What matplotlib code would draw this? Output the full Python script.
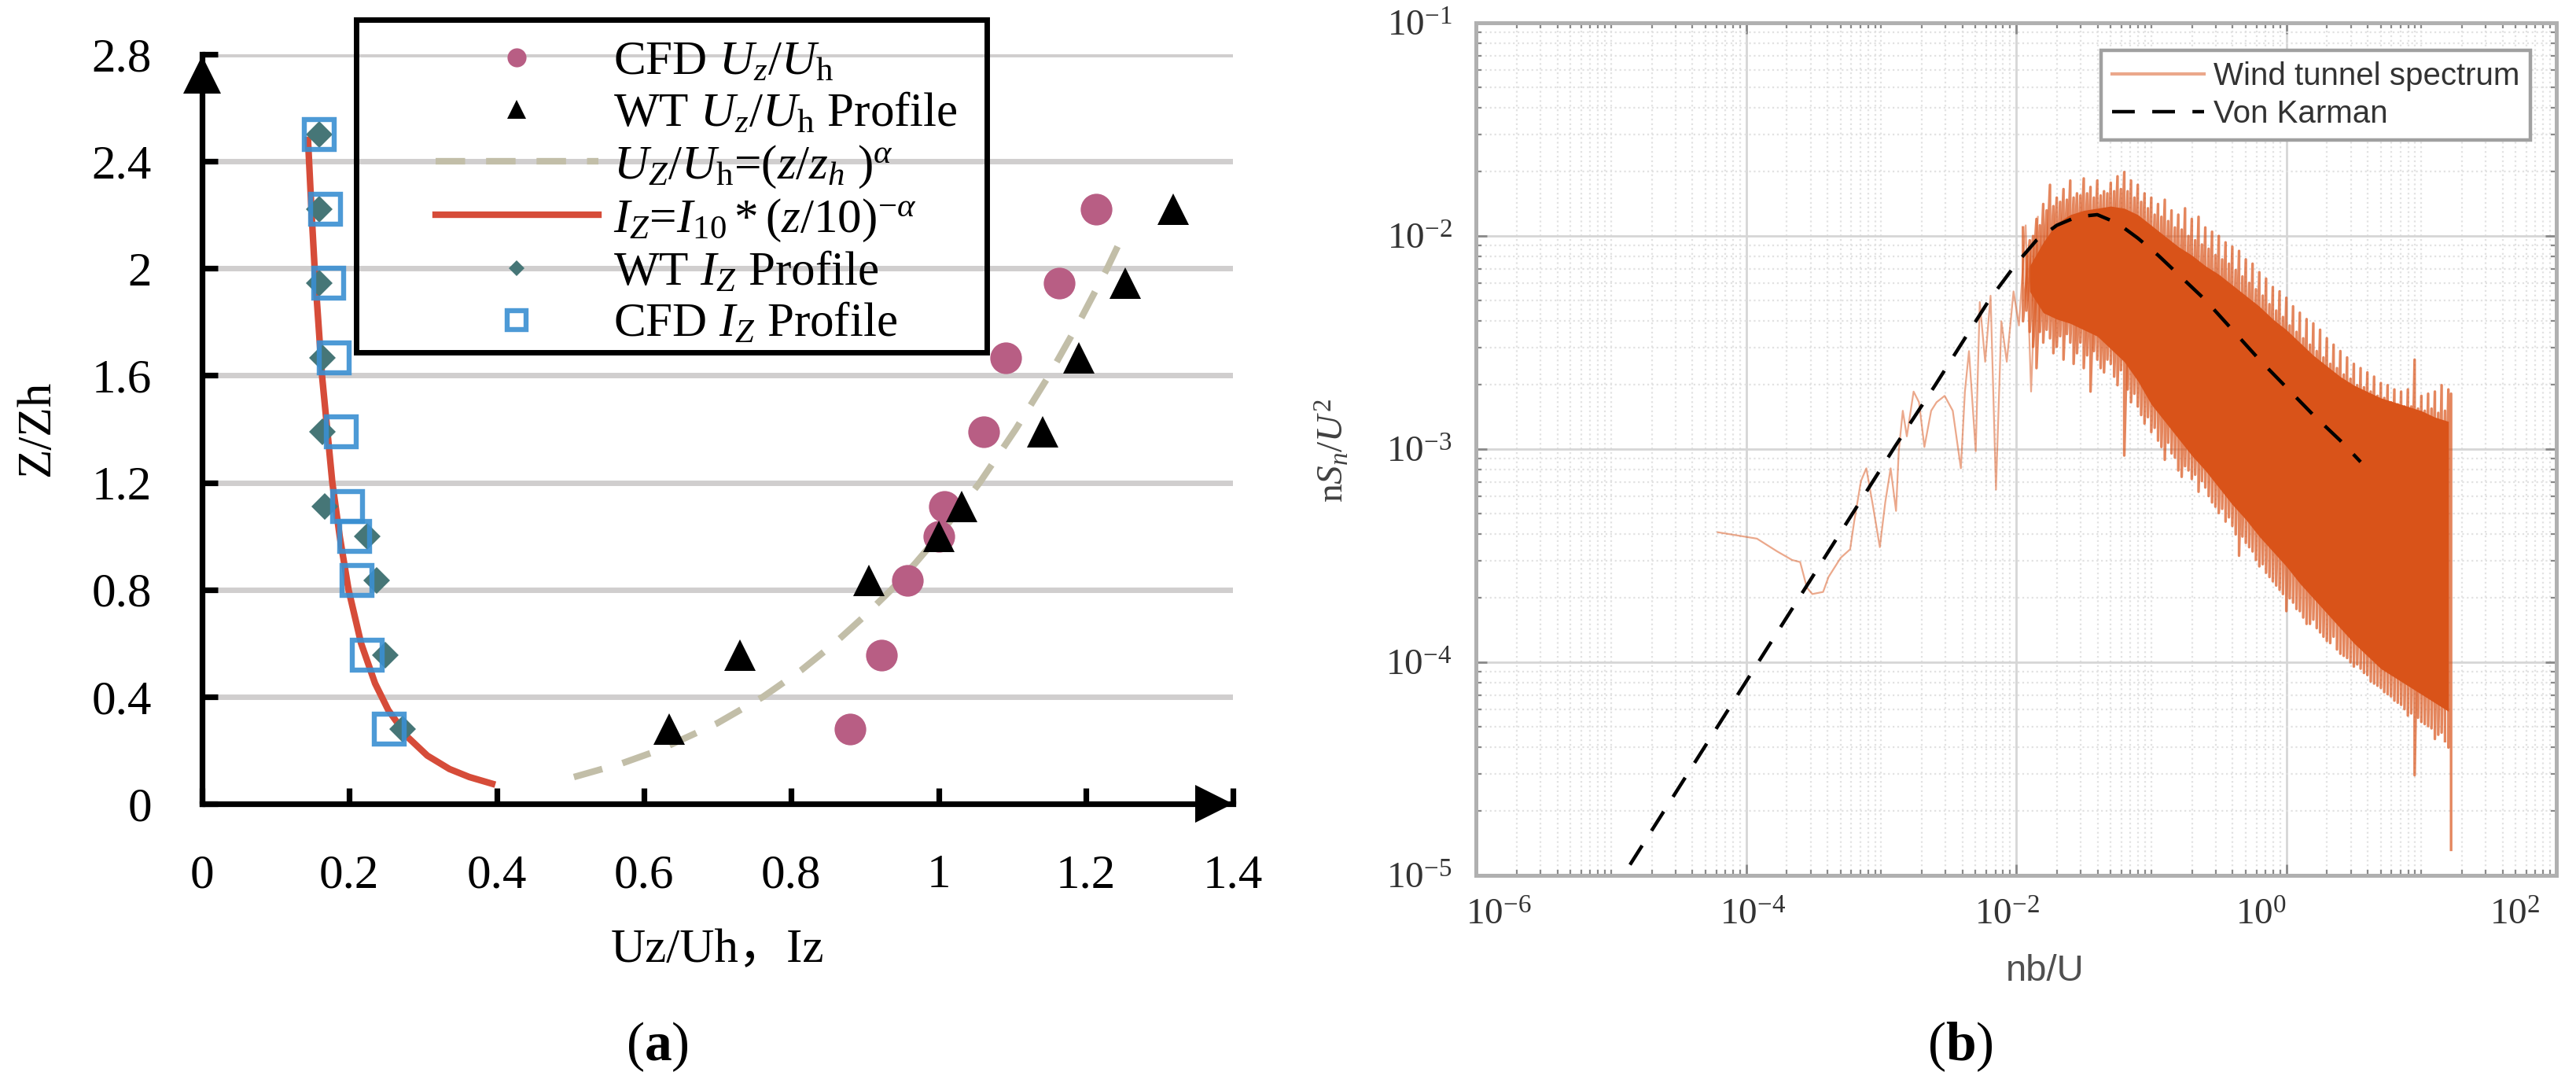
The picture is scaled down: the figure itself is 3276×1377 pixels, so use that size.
import numpy as np
import matplotlib
matplotlib.use("Agg")
import matplotlib.pyplot as plt
from matplotlib.lines import Line2D
from matplotlib.patches import Rectangle
from matplotlib.transforms import blended_transform_factory, ScaledTranslation
from matplotlib.ticker import (FixedLocator, FixedFormatter, LogLocator,
                               NullFormatter, LogFormatterSciNotation)

plt.rcParams['font.family'] = ['Liberation Serif', 'Noto Sans CJK SC']
plt.rcParams['mathtext.fontset'] = 'custom'
plt.rcParams['mathtext.rm'] = 'Liberation Serif'
plt.rcParams['mathtext.it'] = 'Liberation Serif:italic'
plt.rcParams['mathtext.bf'] = 'Liberation Serif:bold'

# ==========================================
# (a) wind / turbulence profiles, z/zh
# ==========================================
heights_u = [0.278, 0.556, 0.833, 1.0, 1.111, 1.389, 1.667, 1.944, 2.222]
cfd_u = [0.880, 0.923, 0.958, 1.0, 1.008, 1.061, 1.091, 1.164, 1.214]
wt_u = [0.634, 0.730, 0.906, 1.0, 1.031, 1.141, 1.190, 1.253, 1.319]

heights_i = [0.278, 0.556, 0.833, 1.0, 1.111, 1.389, 1.667, 1.944, 2.222, 2.5]
cfd_iz = [0.254, 0.224, 0.211, 0.207, 0.198, 0.189, 0.180, 0.172, 0.168, 0.159]
wt_iz = [0.272, 0.249, 0.237, 0.224, 0.167, 0.163, 0.163, 0.159, 0.159, 0.159]

# power law curve
pow_z = [0.1, 0.15, 0.2, 0.3, 0.4, 0.5, 0.6, 0.7, 0.8, 0.9, 1.0, 1.2, 1.4, 1.6, 1.8, 2.0, 2.15]
pow_u = [0.505, 0.569, 0.620, 0.699, 0.762, 0.814, 0.859, 0.899, 0.936, 0.969, 1.0,
         1.056, 1.105, 1.150, 1.191, 1.229, 1.255]

# turbulence intensity curve (red line)
iz_z = [2.48, 2.2, 2.0, 1.8, 1.6, 1.4, 1.2, 1.0, 0.8, 0.6, 0.45, 0.35, 0.25, 0.18, 0.13, 0.1, 0.075]
iz_x = [0.144, 0.149, 0.153, 0.158, 0.163, 0.170, 0.177, 0.187, 0.199, 0.216, 0.235,
        0.253, 0.279, 0.306, 0.336, 0.363, 0.394]

a_xticks = [0, 0.2, 0.4, 0.6, 0.8, 1.0, 1.2, 1.4]
a_xlabels = ["0", "0.2", "0.4", "0.6", "0.8", "1", "1.2", "1.4"]
a_yticks = [0, 0.4, 0.8, 1.2, 1.6, 2.0, 2.4, 2.8]
a_ylabels = ["0", "0.4", "0.8", "1.2", "1.6", "2", "2.4", "2.8"]

# ==========================================
# (b) spectrum, all values are log10
# ==========================================
# sparse low-frequency part of the wind tunnel spectrum
lf_xlog = [-4.21, -3.92, -3.77, -3.66, -3.60, -3.55, -3.51, -3.43, -3.39, -3.30, -3.23,
           -3.20, -3.15, -3.11, -3.06, -3.01, -2.97, -2.93, -2.89, -2.87, -2.84, -2.81,
           -2.76, -2.72, -2.68, -2.63, -2.59, -2.53, -2.47, -2.41, -2.38, -2.35, -2.30,
           -2.27, -2.23, -2.19, -2.15, -2.11, -2.07, -2.02, -1.98, -1.93, -1.89, -1.84]
lf_ylog = [-3.39, -3.42, -3.48, -3.52, -3.53, -3.65, -3.68, -3.67, -3.60, -3.51, -3.47,
           -3.34, -3.15, -3.09, -3.27, -3.46, -3.25, -3.09, -3.29, -3.01, -2.82, -2.94,
           -2.73, -2.78, -2.99, -2.82, -2.78, -2.75, -2.82, -3.09, -2.73, -2.54, -3.01,
           -2.31, -2.59, -2.28, -3.19, -2.40, -2.59, -2.26, -2.42, -1.95, -2.73, -1.91]

# dense part: solid core of the band
band_xlog = [-1.9, -1.8, -1.7, -1.6, -1.5, -1.4, -1.3, -1.2, -1.1, -1.0, -0.9, -0.8,
             -0.7, -0.6, -0.5, -0.4, -0.3, -0.2, -0.1, 0.0, 0.1, 0.2, 0.3, 0.4, 0.5,
             0.6, 0.7, 0.8, 0.9, 1.0, 1.1, 1.2]
core_hi = [-2.14, -2.03, -1.94, -1.90, -1.88, -1.87, -1.86, -1.87, -1.90, -1.95, -2.00,
           -2.05, -2.09, -2.14, -2.18, -2.23, -2.28, -2.33, -2.39, -2.44, -2.50, -2.56,
           -2.61, -2.66, -2.70, -2.73, -2.76, -2.78, -2.80, -2.82, -2.85, -2.87]
core_lo = [-2.26, -2.36, -2.39, -2.41, -2.44, -2.47, -2.53, -2.59, -2.68, -2.79, -2.87,
           -2.95, -3.03, -3.10, -3.18, -3.26, -3.33, -3.41, -3.48, -3.55, -3.63, -3.70,
           -3.77, -3.84, -3.91, -3.97, -4.03, -4.07, -4.11, -4.15, -4.19, -4.23]

# dense part: spike tips above and below the core (two interleaved sets)
spike_xlog = [-1.95, -1.90, -1.85, -1.80, -1.75, -1.70, -1.65, -1.60, -1.55, -1.50,
              -1.45, -1.40, -1.35, -1.30, -1.25, -1.20, -1.15, -1.10, -1.05, -1.00,
              -0.95, -0.90, -0.85, -0.80, -0.75, -0.70, -0.65, -0.60, -0.55, -0.50,
              -0.45, -0.40, -0.35, -0.30, -0.25, -0.20, -0.15, -0.10, -0.05, 0.00,
              0.05, 0.10, 0.15, 0.20, 0.25, 0.30, 0.35, 0.40, 0.45, 0.50,
              0.55, 0.60, 0.65, 0.70, 0.75, 0.80, 0.85, 0.90, 0.95, 1.00,
              1.05, 1.10, 1.15, 1.20, 1.22]
spike_hi = [-1.96, -2.02, -1.92, -1.85, -1.76, -1.82, -1.78, -1.74, -1.80, -1.73,
            -1.77, -1.74, -1.79, -1.75, -1.72, -1.70, -1.74, -1.76, -1.80, -1.82,
            -1.85, -1.83, -1.88, -1.90, -1.87, -1.92, -1.91, -1.96, -1.98, -2.00,
            -2.03, -2.05, -2.07, -2.11, -2.13, -2.17, -2.20, -2.24, -2.26, -2.29,
            -2.33, -2.36, -2.39, -2.41, -2.44, -2.48, -2.51, -2.54, -2.57, -2.60,
            -2.62, -2.64, -2.66, -2.69, -2.70, -2.72, -2.73, -2.72, -2.58, -2.75,
            -2.74, -2.73, -2.70, -2.72, -2.74]
spike_lo = [-2.40, -2.45, -2.62, -2.50, -2.48, -2.52, -2.58, -2.50, -2.55, -2.62,
            -2.73, -2.58, -2.64, -2.60, -2.70, -3.03, -2.78, -2.80, -2.88, -2.92,
            -2.96, -3.05, -3.02, -3.10, -3.08, -3.14, -3.20, -3.18, -3.25, -3.30,
            -3.34, -3.36, -3.50, -3.44, -3.48, -3.55, -3.58, -3.62, -3.66, -3.76,
            -3.72, -3.76, -3.82, -3.80, -3.86, -3.90, -3.88, -3.96, -3.98, -4.02,
            -4.03, -4.06, -4.10, -4.12, -4.15, -4.18, -4.20, -4.25, -4.53, -4.28,
            -4.30, -4.36, -4.33, -4.40, -4.88]
spike2_xlog = [-1.925, -1.875, -1.825, -1.775, -1.725, -1.675, -1.625, -1.575, -1.525,
               -1.475, -1.425, -1.375, -1.325, -1.275, -1.225, -1.175, -1.125, -1.075,
               -1.025, -0.975, -0.925, -0.875, -0.825, -0.775, -0.725, -0.675, -0.625,
               -0.575, -0.525, -0.475, -0.425, -0.375, -0.325, -0.275, -0.225, -0.175,
               -0.125, -0.075, -0.025, 0.025, 0.075, 0.125, 0.175, 0.225, 0.275, 0.325,
               0.375, 0.425, 0.475, 0.525, 0.575, 0.625, 0.675, 0.725, 0.775, 0.825,
               0.875, 0.925, 0.975, 1.025, 1.075, 1.125, 1.175]
spike2_hi = [-2.08, -2.00, -1.95, -1.88, -1.86, -1.84, -1.83, -1.82, -1.81, -1.80,
             -1.82, -1.81, -1.80, -1.79, -1.78, -1.79, -1.82, -1.84, -1.87, -1.90,
             -1.91, -1.93, -1.96, -1.97, -2.00, -2.02, -2.04, -2.06, -2.09, -2.11,
             -2.13, -2.16, -2.19, -2.22, -2.25, -2.28, -2.32, -2.35, -2.38, -2.42,
             -2.45, -2.48, -2.51, -2.54, -2.57, -2.60, -2.62, -2.65, -2.67, -2.70,
             -2.71, -2.73, -2.75, -2.76, -2.78, -2.79, -2.80, -2.80, -2.81, -2.82,
             -2.81, -2.83, -2.82]
spike2_lo = [-2.35, -2.52, -2.45, -2.44, -2.55, -2.47, -2.46, -2.60, -2.50, -2.56,
             -2.54, -2.62, -2.58, -2.66, -2.63, -2.72, -2.74, -2.84, -2.85, -2.90,
             -2.99, -2.97, -3.04, -3.13, -3.10, -3.12, -3.15, -3.22, -3.27, -3.28,
             -3.32, -3.40, -3.41, -3.46, -3.52, -3.54, -3.60, -3.64, -3.68, -3.70,
             -3.75, -3.79, -3.82, -3.84, -3.88, -3.91, -3.94, -3.97, -4.00, -4.01,
             -4.05, -4.09, -4.11, -4.14, -4.16, -4.19, -4.22, -4.24, -4.26, -4.29,
             -4.31, -4.34, -4.37]

# von Karman reference curve
vk_xlog = [-4.86, -4.5, -4.2, -3.8, -3.5, -3.2, -2.9, -2.6, -2.4, -2.2, -2.0, -1.85,
           -1.7, -1.55, -1.4, -1.25, -1.1, -0.95, -0.8, -0.6, -0.4, -0.2, 0.0, 0.2,
           0.4, 0.55]
vk_ylog = [-4.95, -4.59, -4.29, -3.89, -3.59, -3.29, -2.99, -2.70, -2.50, -2.30, -2.13,
           -2.02, -1.95, -1.91, -1.90, -1.94, -2.01, -2.09, -2.18, -2.30, -2.44, -2.58,
           -2.71, -2.84, -2.96, -3.06]

b_xticks = [1e-6, 1e-4, 1e-2, 1e0, 1e2]
b_xticklabels = [r"$10^{-6}$", r"$10^{-4}$", r"$10^{-2}$", r"$10^{0}$", r"$10^{2}$"]
b_yticks = [1e-5, 1e-4, 1e-3, 1e-2, 1e-1]

# colours
PINK = '#B85E84'
TAN = '#C2BEA8'
RED = '#D64C39'
TEAL = '#467677'
BLUE = '#3A8FD2'
ORANGE = '#D95319'

fig = plt.figure(figsize=(16.38, 6.885), dpi=200)

# ------------------------------------------
# panel (a)
# ------------------------------------------
ax_a = fig.add_axes([0.0784, 0.2578, 0.4003, 0.6921])
ax_a.set_xlim(0, 1.4)
ax_a.set_ylim(0, 2.8)
ax_a.set_axisbelow(True)
ax_a.yaxis.grid(True, color='#D0CECE', lw=2.5)

h_pow, = ax_a.plot(pow_u, pow_z, color=TAN, lw=3.0, dashes=(4.5, 3.2),
                   label=r"$U_Z/U_\mathrm{h}$=$(z/z_h\ )^{\alpha}$", zorder=2)
h_iz, = ax_a.plot(iz_x, iz_z, color=RED, lw=3.0,
                  label=r"$I_Z$=$I_{10}*(z/10)^{-\alpha}$", zorder=2)
h_cfd_u, = ax_a.plot(cfd_u, heights_u, 'o', color=PINK, ms=14.5, mew=0,
                     label=r"CFD $U_z/U_\mathrm{h}$", zorder=3)
h_wt_u, = ax_a.plot(wt_u, heights_u, '^', color='black', ms=14.5, mew=0,
                    label=r"WT $U_z/U_\mathrm{h}$ Profile", zorder=3)
h_wt_iz, = ax_a.plot(wt_iz, heights_i, 'D', color=TEAL, ms=8.5, mew=0,
                     label=r"WT $I_Z$ Profile", zorder=3)
h_cfd_iz, = ax_a.plot(cfd_iz, heights_i, 's', mfc='none', mec=BLUE, ms=14, mew=2.3,
                      alpha=0.9, label=r"CFD $I_Z$ Profile", zorder=4)

for side in ['top', 'right']:
    ax_a.spines[side].set_visible(False)
for side in ['left', 'bottom']:
    ax_a.spines[side].set_linewidth(2.6)
    ax_a.spines[side].set_zorder(5)

ax_a.xaxis.set_major_locator(FixedLocator(a_xticks))
ax_a.xaxis.set_major_formatter(FixedFormatter(a_xlabels))
ax_a.yaxis.set_major_locator(FixedLocator(a_yticks))
ax_a.yaxis.set_major_formatter(FixedFormatter(a_ylabels))
ax_a.tick_params(direction='in', length=7.2, width=2.6, labelsize=22)
ax_a.tick_params(axis='x', pad=23)
ax_a.tick_params(axis='y', pad=23)

# axis arrow heads
ax_a.plot([0], [2.725], marker='^', ms=17, color='black', mew=0, clip_on=False, zorder=6)
ax_a.plot([1.374], [0], marker='>', ms=17, color='black', mew=0, clip_on=False, zorder=6)

# legend with its own square frame
ax_a.add_patch(Rectangle((0.2096, 1.687), 0.856, 1.243, fill=False, ec='black',
                         lw=2.5, clip_on=False, zorder=7))
leg_a = ax_a.legend(handles=[h_cfd_u, h_wt_u, h_pow, h_iz, h_wt_iz, h_cfd_iz],
                    loc='upper left', bbox_to_anchor=(0.203, 1.05), frameon=False,
                    borderpad=0, handlelength=3.4, handletextpad=0.3,
                    labelspacing=0.15, markerscale=0.6, prop={'size': 22})

fig.text(0.2784, 0.1227, "Uz/Uh，Iz", fontsize=22, ha='center', va='center')
fig.text(0.0144, 0.6042, "Z/Zh", fontsize=22, rotation=90, ha='center', va='center')
fig.text(0.2552, 0.0334, r"($\mathbf{a}$)", fontsize=25, ha='center', va='center')

# ------------------------------------------
# panel (b)
# ------------------------------------------
ax_b = fig.add_axes([0.5730, 0.1917, 0.4194, 0.7872])
ax_b.set_xscale('log')
ax_b.set_yscale('log')

zig_x = np.repeat(np.power(10.0, spike_xlog), 2)
zig_y = np.power(10.0, np.column_stack((spike_hi, spike_lo)).ravel())
zig2_x = np.repeat(np.power(10.0, spike2_xlog), 2)
zig2_y = np.power(10.0, np.column_stack((spike2_hi, spike2_lo)).ravel())

ax_b.fill_between(np.power(10.0, band_xlog), np.power(10.0, core_lo),
                  np.power(10.0, core_hi), color=ORANGE, lw=0, zorder=2)
ax_b.plot(np.power(10.0, lf_xlog), np.power(10.0, lf_ylog), color=ORANGE, alpha=0.5,
          lw=0.8, zorder=3)
ax_b.plot(zig_x, zig_y, color=ORANGE, alpha=0.7, lw=1.2, zorder=3)
ax_b.plot(zig2_x, zig2_y, color=ORANGE, alpha=0.7, lw=1.2, zorder=3)
ax_b.plot(np.power(10.0, vk_xlog), np.power(10.0, vk_ylog), color='black', lw=1.6,
          dashes=(6.5, 5), zorder=4)

ax_b.set_xlim(1e-6, 1e2)
ax_b.set_ylim(1e-5, 1e-1)
ax_b.xaxis.set_major_locator(FixedLocator(b_xticks))
ax_b.xaxis.set_major_formatter(NullFormatter())
ax_b.xaxis.set_minor_locator(LogLocator(base=10, subs=np.arange(1, 10), numticks=100))
ax_b.xaxis.set_minor_formatter(NullFormatter())
ax_b.yaxis.set_major_locator(FixedLocator(b_yticks))
ax_b.yaxis.set_major_formatter(LogFormatterSciNotation())
ax_b.yaxis.set_minor_locator(LogLocator(base=10, subs=np.arange(2, 10), numticks=100))
ax_b.yaxis.set_minor_formatter(NullFormatter())

ax_b.grid(True, which='major', color='#D6D6D6', lw=1.0)
ax_b.grid(True, which='minor', color='#E2E2E2', lw=0.8, ls=':')
ax_b.set_axisbelow(True)
for side in ax_b.spines.values():
    side.set_color('#B0B0B0')
    side.set_linewidth(1.8)
ax_b.tick_params(which='both', direction='in', top=True, right=True,
                 colors='#8A8A8A', labelcolor='#333333', labelsize=17)
ax_b.tick_params(which='major', length=5, width=1.0)
ax_b.tick_params(which='minor', length=2.5, width=0.8)
ax_b.tick_params(axis='y', pad=11)

# x tick labels sit slightly off their ticks in the original figure
xlab_shift_px = [29, 8, -12, -32, -53]
xlab_trans = blended_transform_factory(ax_b.transData, ax_b.transAxes)
for val, lab, dx in zip(b_xticks, b_xticklabels, xlab_shift_px):
    ax_b.text(val, -0.028, lab, fontsize=17, color='#333333', ha='center', va='top',
              clip_on=False,
              transform=xlab_trans + ScaledTranslation(dx / 200, 0, fig.dpi_scale_trans))

spec_handle = Line2D([], [], color=ORANGE, alpha=0.5, lw=1.5)
vk_handle = Line2D([], [], color='black', lw=1.6, dashes=(6.5, 5))
leg_b = ax_b.legend([spec_handle, vk_handle], ["Wind tunnel spectrum", "Von Karman"],
                    loc='upper right', bbox_to_anchor=(0.976, 0.968), borderaxespad=0,
                    prop={'family': 'Liberation Sans', 'size': 14.5}, fancybox=False,
                    edgecolor='#A0A0A0', framealpha=1, handlelength=2.9,
                    handletextpad=0.3, borderpad=0.35, labelspacing=0.25)
leg_b.get_frame().set_linewidth(1.6)
for t in leg_b.get_texts():
    t.set_color('#333333')

fig.text(0.794, 0.1031, "nb/U", family='Liberation Sans', fontsize=17, color='#505050',
         ha='center', va='center')
fig.text(0.5174, 0.584, r"n$S_n/U^2$", fontsize=17, color='#404040', rotation=90,
         ha='center', va='center')
fig.text(0.761, 0.0334, r"($\mathbf{b}$)", fontsize=25, ha='center', va='center')

fig.savefig('out.png', dpi=200)
